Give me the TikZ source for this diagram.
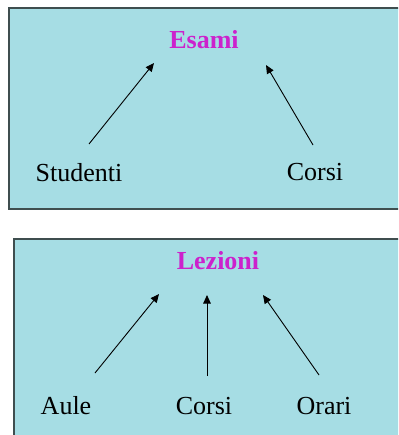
\documentclass[tikz,border=0pt]{standalone}
\usepackage{fontspec}
\setmainfont{Liberation Serif}
\usetikzlibrary{arrows.meta}
\definecolor{boxfill}{HTML}{A6DDE4}
\definecolor{boxline}{HTML}{3F4E4F}
\definecolor{titlecol}{HTML}{CC22CC}
\tikzset{
  panel/.style={draw=boxline, fill=boxfill, line width=1.3pt},
  title/.style={text=titlecol, font=\fontsize{26}{30}\selectfont\bfseries, inner sep=0pt},
  label/.style={text=black, font=\fontsize{26}{30}\selectfont, inner sep=0pt},
  conn/.style={draw=black, line width=0.9pt, -{Triangle[length=8.5pt,width=7.5pt]}}
}
\begin{document}
\begin{tikzpicture}[x=1pt,y=-1pt]
\useasboundingbox (0,0) rectangle (398,435);
\clip (0,0) rectangle (398,435);
% top panel
\path[panel] (9,8) rectangle (405,209);
\node[title] (esami) at (204,40) {Esami};
\node[label] (studenti) at (79,173) {Studenti};
\node[label] (corsiA) at (315,172) {Corsi};
\coordinate (s1) at (89,144);
\coordinate (s2) at (154,63);
\coordinate (c1) at (313,145);
\coordinate (c2) at (266,65);
\draw[conn] (s1) -- (s2);
\draw[conn] (c1) -- (c2);
% bottom panel
\path[panel] (14,239) rectangle (405,445);
\node[title] (lezioni) at (218,261) {Lezioni};
\node[label] (aule) at (66,406) {Aule};
\node[label] (corsiB) at (204,406) {Corsi};
\node[label] (orari) at (324,406) {Orari};
\coordinate (a1) at (95,373);
\coordinate (a2) at (159,294);
\coordinate (b1) at (207,376);
\coordinate (b2) at (207,295);
\coordinate (o1) at (319,375);
\coordinate (o2) at (263,295);
\draw[conn] (a1) -- (a2);
\draw[conn] (b1) -- (b2);
\draw[conn] (o1) -- (o2);
\end{tikzpicture}
\end{document}
